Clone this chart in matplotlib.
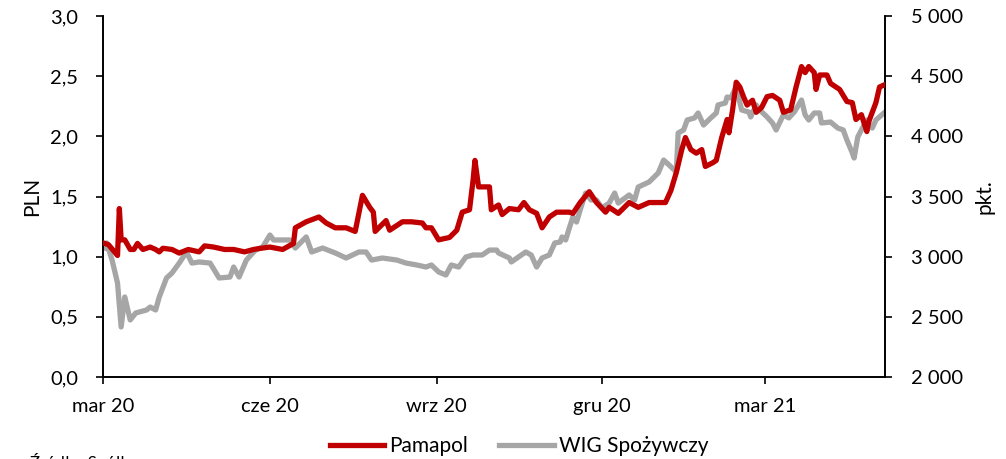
import numpy as np
import pandas as pd
import matplotlib
matplotlib.use('Agg')
import matplotlib.pyplot as plt
import matplotlib.dates as mdates
from matplotlib.ticker import FuncFormatter, MultipleLocator

plt.rcParams['font.family'] = ['Lato', 'DejaVu Sans']

# Pamapol share price (PLN)
pam_dates = [
    '2020-03-02', '2020-03-04', '2020-03-09', '2020-03-10', '2020-03-11', '2020-03-13',
    '2020-03-16', '2020-03-18', '2020-03-20', '2020-03-23', '2020-03-27', '2020-03-30',
    '2020-04-01', '2020-04-03', '2020-04-08', '2020-04-12', '2020-04-17', '2020-04-23',
    '2020-04-26', '2020-05-01', '2020-05-07', '2020-05-12', '2020-05-18', '2020-05-23',
    '2020-05-27', '2020-06-01', '2020-06-08', '2020-06-14', '2020-06-15', '2020-06-21',
    '2020-06-28', '2020-07-02', '2020-07-07', '2020-07-13', '2020-07-18', '2020-07-22',
    '2020-07-26', '2020-07-28', '2020-07-29', '2020-08-04', '2020-08-06', '2020-08-13',
    '2020-08-18', '2020-08-24', '2020-08-26', '2020-08-29', '2020-09-02', '2020-09-08',
    '2020-09-12', '2020-09-15', '2020-09-19', '2020-09-21', '2020-09-22', '2020-09-24',
    '2020-09-30', '2020-10-01', '2020-10-05', '2020-10-07', '2020-10-11', '2020-10-16',
    '2020-10-19', '2020-10-22', '2020-10-26', '2020-10-29', '2020-11-02', '2020-11-06',
    '2020-11-13', '2020-11-15', '2020-11-19', '2020-11-24', '2020-11-28', '2020-12-03',
    '2020-12-05', '2020-12-10', '2020-12-16', '2020-12-21', '2020-12-27', '2021-01-05',
    '2021-01-08', '2021-01-11', '2021-01-14', '2021-01-16', '2021-01-19', '2021-01-22',
    '2021-01-25', '2021-01-27', '2021-01-31', '2021-02-02', '2021-02-05', '2021-02-08',
    '2021-02-09', '2021-02-11', '2021-02-13', '2021-02-15', '2021-02-17', '2021-02-19',
    '2021-02-22', '2021-02-24', '2021-02-27', '2021-03-02', '2021-03-05', '2021-03-09',
    '2021-03-11', '2021-03-15', '2021-03-18', '2021-03-21', '2021-03-23', '2021-03-25',
    '2021-03-28', '2021-03-29', '2021-03-31', '2021-04-04', '2021-04-06', '2021-04-11',
    '2021-04-15', '2021-04-18', '2021-04-20', '2021-04-23', '2021-04-26', '2021-04-27',
    '2021-05-01', '2021-05-03', '2021-05-06',
]
pam_values = [
    1.11, 1.10, 1.01, 1.40, 1.14, 1.14,
    1.06, 1.06, 1.11, 1.06, 1.08, 1.06,
    1.04, 1.07, 1.06, 1.03, 1.06, 1.04,
    1.09, 1.08, 1.06, 1.06, 1.04, 1.06,
    1.07, 1.08, 1.06, 1.11, 1.24, 1.29,
    1.33, 1.28, 1.24, 1.24, 1.21, 1.51,
    1.41, 1.37, 1.21, 1.30, 1.22, 1.29,
    1.29, 1.28, 1.24, 1.24, 1.14, 1.16,
    1.22, 1.37, 1.39, 1.64, 1.80, 1.58,
    1.58, 1.39, 1.43, 1.35, 1.40, 1.39,
    1.45, 1.39, 1.36, 1.24, 1.33, 1.37,
    1.37, 1.36, 1.45, 1.54, 1.45, 1.37,
    1.41, 1.36, 1.45, 1.41, 1.45, 1.45,
    1.55, 1.70, 1.89, 1.99, 1.89, 1.86,
    1.89, 1.75, 1.78, 1.80, 1.99, 2.14,
    2.03, 2.22, 2.45, 2.41, 2.33, 2.26,
    2.30, 2.20, 2.24, 2.33, 2.34, 2.30,
    2.20, 2.22, 2.41, 2.58, 2.53, 2.58,
    2.53, 2.39, 2.51, 2.51, 2.44, 2.39,
    2.29, 2.28, 2.14, 2.18, 2.04, 2.12,
    2.28, 2.41, 2.43,
]

# WIG Spożywczy index (pkt.)
wig_dates = [
    '2020-03-02', '2020-03-03', '2020-03-06', '2020-03-09', '2020-03-11', '2020-03-13',
    '2020-03-16', '2020-03-19', '2020-03-25', '2020-03-27', '2020-03-30', '2020-04-01',
    '2020-04-05', '2020-04-08', '2020-04-12', '2020-04-16', '2020-04-19', '2020-04-23',
    '2020-04-29', '2020-05-04', '2020-05-10', '2020-05-12', '2020-05-15', '2020-05-19',
    '2020-05-24', '2020-05-28', '2020-06-01', '2020-06-03', '2020-06-06', '2020-06-12',
    '2020-06-15', '2020-06-21', '2020-06-24', '2020-06-30', '2020-07-07', '2020-07-13',
    '2020-07-20', '2020-07-24', '2020-07-27', '2020-08-02', '2020-08-10', '2020-08-15',
    '2020-08-21', '2020-08-26', '2020-08-29', '2020-09-02', '2020-09-06', '2020-09-09',
    '2020-09-13', '2020-09-17', '2020-09-21', '2020-09-26', '2020-09-30', '2020-10-04',
    '2020-10-05', '2020-10-11', '2020-10-12', '2020-10-16', '2020-10-20', '2020-10-23',
    '2020-10-26', '2020-10-29', '2020-11-02', '2020-11-05', '2020-11-08', '2020-11-09',
    '2020-11-11', '2020-11-13', '2020-11-15', '2020-11-17', '2020-11-19', '2020-11-22',
    '2020-11-25', '2020-11-28', '2020-12-01', '2020-12-05', '2020-12-08', '2020-12-10',
    '2020-12-16', '2020-12-19', '2020-12-21', '2020-12-27', '2021-01-01', '2021-01-04',
    '2021-01-07', '2021-01-11', '2021-01-12', '2021-01-15', '2021-01-17', '2021-01-21',
    '2021-01-23', '2021-01-26', '2021-01-30', '2021-02-02', '2021-02-03', '2021-02-07',
    '2021-02-08', '2021-02-10', '2021-02-13', '2021-02-16', '2021-02-20', '2021-02-21',
    '2021-02-24', '2021-02-26', '2021-03-02', '2021-03-05', '2021-03-07', '2021-03-11',
    '2021-03-14', '2021-03-17', '2021-03-21', '2021-03-23', '2021-03-25', '2021-03-28',
    '2021-03-31', '2021-04-01', '2021-04-06', '2021-04-10', '2021-04-13', '2021-04-15',
    '2021-04-18', '2021-04-19', '2021-04-21', '2021-04-23', '2021-04-26', '2021-04-29',
    '2021-05-01', '2021-05-06',
]
wig_values = [
    3072, 3114, 2972, 2781, 2416, 2665,
    2474, 2532, 2557, 2582, 2557, 2665,
    2823, 2864, 2947, 3039, 2947, 2956,
    2947, 2823, 2831, 2914, 2831, 2972,
    3055, 3080, 3180, 3139, 3139, 3139,
    3072, 3164, 3039, 3072, 3031, 2989,
    3039, 3039, 2972, 2989, 2972, 2947,
    2931, 2914, 2931, 2873, 2848, 2931,
    2914, 2997, 3014, 3014, 3055, 3055,
    3031, 2989, 2956, 2997, 3039, 3014,
    2914, 2989, 3014, 3114, 3122, 3164,
    3139, 3238, 3330, 3288, 3388, 3529,
    3471, 3471, 3405, 3446, 3529, 3446,
    3513, 3471, 3579, 3621, 3695, 3803,
    3762, 3704, 4028, 4053, 4136, 4153,
    4194, 4094, 4153, 4194, 4261, 4277,
    4327, 4319, 4410, 4219, 4202, 4161,
    4261, 4219, 4161, 4111, 4053, 4178,
    4153, 4202, 4302, 4178, 4136, 4194,
    4194, 4111, 4119, 4069, 4053, 3970,
    3862, 3820, 3995, 4053, 4136, 4069,
    4136, 4202,
]

tick_dates = ['2020-03-01', '2020-06-01', '2020-09-01', '2020-12-01', '2021-03-01']
tick_labels = ['mar 20', 'cze 20', 'wrz 20', 'gru 20', 'mar 21']

red = '#C00000'
grey = '#A6A6A6'

fig = plt.figure(figsize=(10.06, 4.59), dpi=100)
ax = fig.add_axes([0.1024, 0.1786, 0.7773, 0.7865])
ax2 = ax.twinx()

l1, = ax.plot(pd.to_datetime(pam_dates), pam_values, color=red, lw=3.8,
              solid_joinstyle='round', label='Pamapol', zorder=3)
l2, = ax2.plot(pd.to_datetime(wig_dates), wig_values, color=grey, lw=3.8,
               solid_joinstyle='round', label='WIG Spożywczy')
# red series drawn above grey
ax.set_zorder(ax2.get_zorder() + 1)
ax.patch.set_visible(False)

ax.set_xlim(pd.Timestamp('2020-03-01'), pd.Timestamp('2021-05-06'))
ax.set_ylim(0, 3.0)
ax2.set_ylim(2000, 5000)
ax.yaxis.set_major_locator(MultipleLocator(0.5))
ax2.yaxis.set_major_locator(MultipleLocator(500))
ax.yaxis.set_major_formatter(FuncFormatter(lambda v, p: f'{v:.1f}'.replace('.', ',')))
ax2.yaxis.set_major_formatter(FuncFormatter(lambda v, p: f'{int(v):,}'.replace(',', ' ')))

ax.set_xticks(pd.to_datetime(tick_dates))
ax.set_xticklabels(tick_labels)

for a in (ax, ax2):
    a.spines['top'].set_visible(False)
    for s in ('left', 'right', 'bottom'):
        a.spines[s].set_linewidth(1.2)
    a.tick_params(axis='both', direction='out', length=5, width=1.2,
                  labelsize=14.5, colors='black')
ax.tick_params(axis='x', pad=10)
ax.tick_params(axis='y', pad=13)
ax2.tick_params(axis='y', pad=14)

ax.set_ylabel('PLN', fontsize=15, labelpad=6)
ax2.set_ylabel('pkt.', fontsize=15, labelpad=8)

fig.legend(handles=[l1, l2], loc='center', bbox_to_anchor=(0.516, 0.028),
           ncol=2, frameon=False, fontsize=15, handlelength=2.6,
           handletextpad=0.25, columnspacing=1.5)

fig.text(0.03, 0.012, 'Źródło: Spółka', fontsize=12, va='top', ha='left')

plt.savefig('out.png', dpi=100)
